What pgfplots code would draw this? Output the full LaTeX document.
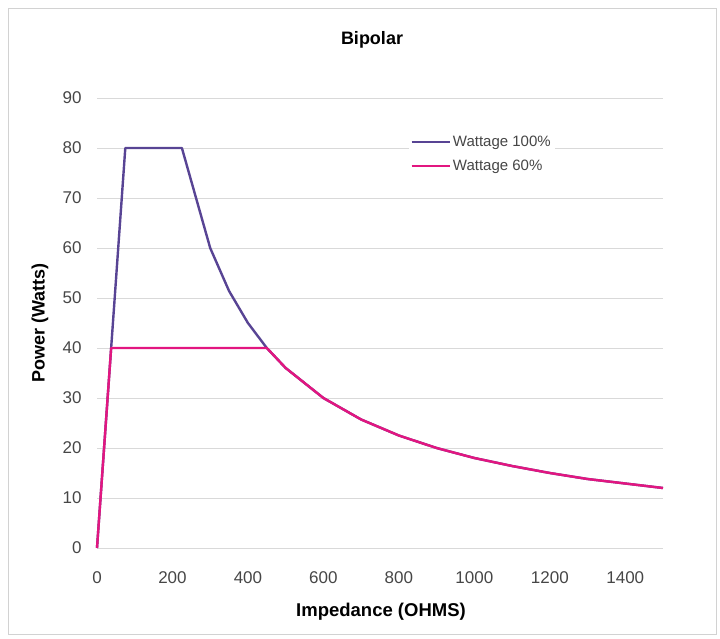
\documentclass[border=0pt]{standalone}
\usepackage{pgfplots}
\pgfplotsset{compat=1.18}
\usepackage{fontspec}
\setmainfont{Liberation Sans}
\definecolor{wpurple}{RGB}{88,68,148}
\definecolor{wpink}{RGB}{226,22,128}
\definecolor{tickgray}{RGB}{70,70,70}
\begin{document}
\begin{tikzpicture}[x=1pt,y=1pt]
\useasboundingbox (-97,-90) rectangle (623,548);
\draw[gray!35, line width=0.8pt] (-89,-86) rectangle (619,540);
\begin{axis}[
  at={(0,0)}, anchor=south west,
  scale only axis, width=566pt, height=450pt,
  xmin=0, xmax=1500, ymin=0, ymax=90,
  xtick={0,200,...,1400}, ytick={0,10,...,90},
  ymajorgrids, grid style={gray!30, line width=0.7pt},
  axis line style={draw=none},
  major tick length=0pt,
  tick label style={font=\fontsize{17}{19}\selectfont, text=tickgray},
  xticklabel style={yshift=-20pt},
  yticklabel style={xshift=-12pt},
  /pgf/number format/assume math mode=true,
  /pgf/number format/1000 sep={},
  legend style={at={(0.55,0.925)}, anchor=north west, draw=none, fill=white,
    font=\fontsize{15}{17}\selectfont, text=tickgray, row sep=8pt,
    inner sep=2pt},
  legend cell align=left,
  legend image code/.code={\draw[#1] (0pt,0pt) -- (38pt,0pt);},
  clip=false,
]
\addplot[wpurple, line width=2.4pt, line join=round] coordinates {
 (0,0) (75,80) (225,80) (300,60) (350,51.4) (400,45) (450,40) (500,36)
 (600,30) (700,25.7) (800,22.5) (900,20) (1000,18) (1100,16.4) (1200,15)
 (1300,13.8) (1400,12.9) (1500,12)};
\addlegendentry{Wattage 100\%}
\addplot[wpink, line width=2.4pt, line join=round] coordinates {
 (0,0) (37.5,40) (450,40) (500,36)
 (600,30) (700,25.7) (800,22.5) (900,20) (1000,18) (1100,16.4) (1200,15)
 (1300,13.8) (1400,12.9) (1500,12)};
\addlegendentry{Wattage 60\%}
\end{axis}
\node[font=\bfseries\fontsize{18}{20}\selectfont] at (275,508) {Bipolar};
\node[font=\bfseries\fontsize{18}{20}\selectfont, rotate=90] at (-57,225) {Power (Watts)};
\node[font=\bfseries\fontsize{18.5}{20}\selectfont] at (284,-64) {Impedance (OHMS)};
\end{tikzpicture}
\end{document}
